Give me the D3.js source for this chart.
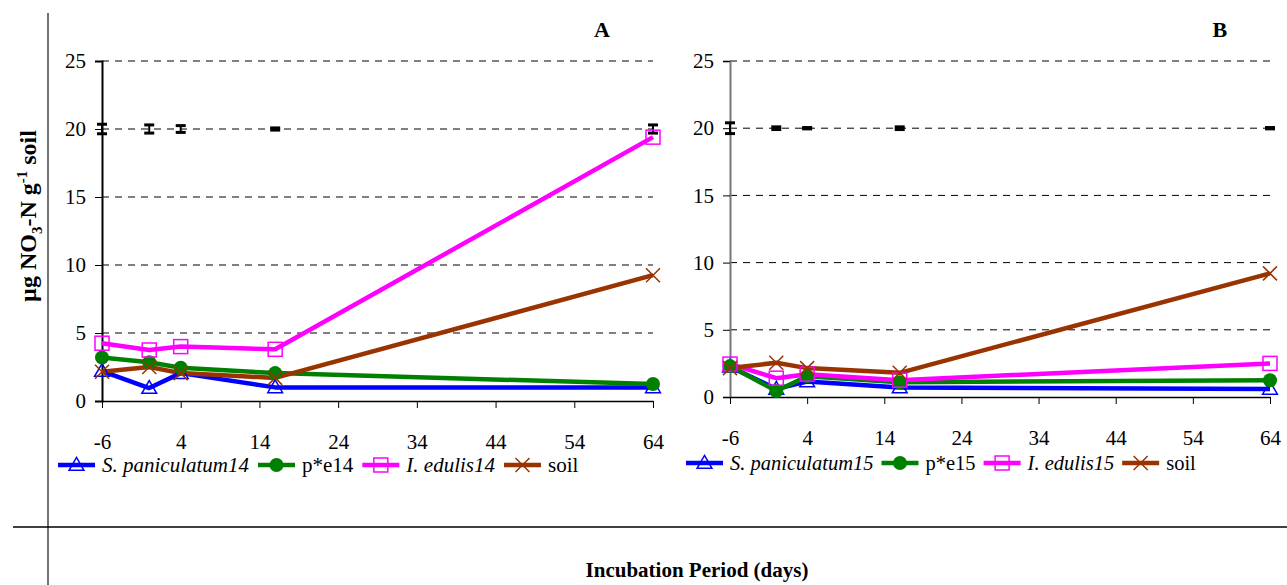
<!DOCTYPE html>
<html><head><meta charset="utf-8">
<script src="https://cdn.jsdelivr.net/npm/d3@7"></script>
<style>
body{margin:0;background:#fff;}
svg, svg text{font-family:"Liberation Serif","Times New Roman",serif !important;}
</style></head>
<body>
<svg id="c" width="1287" height="585"></svg>
<script>
const days = [-6, 0, 4, 16, 64];
const xTicks = [-6, 4, 14, 24, 34, 44, 54, 64];
const yTicks = [0, 5, 10, 15, 20, 25];

// Panel A
const spA = [2.2, 0.95, 2.05, 1.0, 1.0];
const peA = [3.2, 2.85, 2.45, 2.05, 1.25];
const ieA = [4.25, 3.75, 4.0, 3.8, 19.4];
const soilA = [2.15, 2.5, 2.05, 1.7, 9.25];
const errA = [0.35, 0.3, 0.25, 0.08, 0.3];

// Panel B
const spB = [2.25, 0.6, 1.15, 0.7, 0.6];
const peB = [2.3, 0.45, 1.55, 1.1, 1.25];
const ieB = [2.45, 1.4, 1.7, 1.25, 2.5];
const soilB = [2.15, 2.55, 2.15, 1.8, 9.2];
const errB = [0.4, 0.1, 0.05, 0.1, 0.05];

const namesA = ["S. paniculatum14", "p*e14", "I. edulis14", "soil"];
const namesB = ["S. paniculatum15", "p*e15", "I. edulis15", "soil"];
const italic = [true, false, true, false];
const colors = ["#0000ff", "#008000", "#ff00ff", "#993300"];
const shapes = ["tri", "circle", "square", "x"];

const FONT = "'Liberation Serif','Times New Roman',serif";
const svg = d3.select("#c");

// outer frame lines
svg.append("line").attr("x1",48).attr("x2",48).attr("y1",13).attr("y2",585).attr("stroke","#444").attr("stroke-width",1.5);
svg.append("line").attr("x1",13).attr("x2",1287).attr("y1",527).attr("y2",527).attr("stroke","#000").attr("stroke-width",1.5);

// titles
svg.append("text").attr("x",697).attr("y",577).attr("text-anchor","middle")
  .style("font-family",FONT).attr("font-weight","bold").attr("font-size",21).text("Incubation Period (days)");
const yt = svg.append("text").attr("transform","translate(36,216) rotate(-90)").attr("text-anchor","middle")
  .style("font-family",FONT).attr("font-weight","bold").attr("font-size",24);
yt.append("tspan").text("\u00b5g NO");
yt.append("tspan").attr("font-size",15).attr("dy",6).text("3");
yt.append("tspan").attr("dy",-6).text("-N g");
yt.append("tspan").attr("font-size",15).attr("dy",-9).text("-1");
yt.append("tspan").attr("dy",9).text(" soil");

function marker(g, shape, color, x, y) {
  if (shape === "tri") {
    g.append("path").attr("d", d3.symbol().type(d3.symbolTriangle).size(95)())
      .attr("transform", `translate(${x},${y+1})`).attr("fill","#fff").attr("fill-opacity",0.01)
      .attr("stroke", color).attr("stroke-width",1.5);
  } else if (shape === "circle") {
    g.append("circle").attr("cx",x).attr("cy",y).attr("r",7).attr("fill",color);
  } else if (shape === "square") {
    g.append("rect").attr("x",x-7).attr("y",y-7).attr("width",14).attr("height",14)
      .attr("fill","none").attr("stroke",color).attr("stroke-width",1.5);
  } else {
    g.append("path").attr("d",`M${x-7},${y-7}L${x+7},${y+7}M${x-7},${y+7}L${x+7},${y-7}`)
      .attr("stroke",color).attr("stroke-width",1.5);
  }
}

function panel(cfg) {
  const {x0, x1, y0, y1, series, err, names, label, axisColor, legX, legY, legGap, legSize} = cfg;
  const x = d3.scaleLinear().domain([-6, 64]).range([x0, x1]);
  const y = d3.scaleLinear().domain([0, 25]).range([y0, y1]);
  const g = svg.append("g");

  // grid
  g.selectAll(".grid").data(yTicks.filter(d => d > 0)).join("line")
    .attr("x1", x0).attr("x2", x1).attr("y1", d => y(d)).attr("y2", d => y(d))
    .attr("stroke", "#000").attr("stroke-width", 1).attr("stroke-dasharray", "7,6");

  // y axis
  const ya = g.append("g").attr("transform", `translate(${x0},0)`)
    .call(d3.axisLeft(y).tickValues(yTicks).tickSize(7).tickPadding(9).tickFormat(d => String(d)));
  ya.attr("font-family", null);
  ya.select(".domain").attr("stroke", axisColor).attr("stroke-width", 2);
  ya.selectAll(".tick line").attr("stroke", "#000");
  ya.selectAll("text").style("font-family", FONT).attr("font-size", 21).attr("fill","#000");

  // x axis
  const xa = g.append("g").attr("transform", `translate(0,${y0})`)
    .call(d3.axisBottom(x).tickValues(xTicks).tickSize(7).tickPadding(26).tickSizeOuter(0).tickFormat(d => String(d)));
  xa.attr("font-family", null);
  xa.select(".domain").attr("stroke", "#000").attr("stroke-width", 1.5);
  xa.selectAll("text").style("font-family", FONT).attr("font-size", 21).attr("fill","#000");

  // error bars at 20
  days.forEach((d, i) => {
    const cx = x(d), e = err[i];
    const ea = g.append("g").attr("stroke", "#000").attr("stroke-width", 3);
    ea.append("line").attr("x1", cx).attr("x2", cx).attr("y1", y(20 + e)).attr("y2", y(20 - e)).attr("stroke-width", 2);
    ea.append("line").attr("x1", cx - 5).attr("x2", cx + 5).attr("y1", y(20 + e)).attr("y2", y(20 + e));
    ea.append("line").attr("x1", cx - 5).attr("x2", cx + 5).attr("y1", y(20 - e)).attr("y2", y(20 - e));
  });

  const line = d3.line().x((v, i) => x(days[i])).y(v => y(v));
  series.forEach((s, k) => {
    g.append("path").datum(s).attr("d", line).attr("fill", "none")
      .attr("stroke", colors[k]).attr("stroke-width", 4.5).attr("stroke-linejoin","round");
  });
  series.forEach((s, k) => {
    s.forEach((v, i) => marker(g, shapes[k], colors[k], x(days[i]), y(v)));
  });

  // panel label
  g.append("text").attr("x", x(57.5)).attr("y", 37).attr("text-anchor","middle")
    .style("font-family",FONT).attr("font-weight","bold").attr("font-size",22).text(label);

  // legend
  let lx = legX;
  names.forEach((n, k) => {
    const lg = g.append("g");
    lg.append("line").attr("x1", lx).attr("x2", lx + 37).attr("y1", legY).attr("y2", legY)
      .attr("stroke", colors[k]).attr("stroke-width", 4.5);
    marker(lg, shapes[k], colors[k], lx + 18.5, legY);
    const t = lg.append("text").attr("x", lx + 44).attr("y", legY + 7).attr("font-size", legSize)
      .style("font-family",FONT).attr("font-style", italic[k] ? "italic" : "normal").text(n);
    const w = t.node().getComputedTextLength();
    lx += 44 + w + legGap;
  });
}

panel({x0:102, x1:653, y0:401, y1:61, series:[spA, peA, ieA, soilA], err:errA, names:namesA,
  label:"A", axisColor:"#000", legX:58, legY:465, legGap:9, legSize:21});
panel({x0:730, x1:1270, y0:397, y1:61, series:[spB, peB, ieB, soilB], err:errB, names:namesB,
  label:"B", axisColor:"#777", legX:686, legY:463, legGap:8, legSize:20.5});
</script>
</body></html>
